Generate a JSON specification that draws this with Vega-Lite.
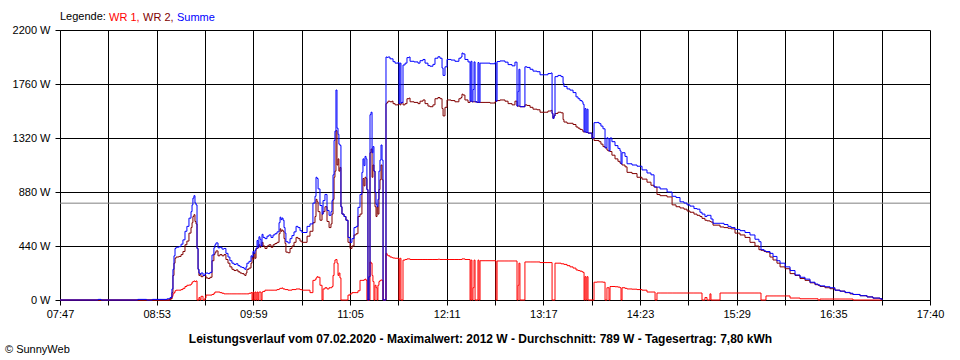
{
  "$schema": "https://vega.github.io/schema/vega-lite/v6.json",
  "width": 870,
  "height": 270,
  "autosize": "none",
  "padding": {"left": 60, "top": 30, "right": 30, "bottom": 60},
  "background": "white",
  "title": {"text": "© SunnyWeb", "orient": "bottom", "anchor": "start", "frame": "group", "fontSize": 11, "fontWeight": "normal", "color": "black", "font": "Liberation Sans", "dx": -55, "offset": 0},
  "config": {"font": "Liberation Sans", "view": {"stroke": null}},
  "layer": [
    {
      "data": {"values": [{"Durchschnitt": 789}]},
      "mark": {"type": "rule", "color": "#808080", "strokeWidth": 1},
      "encoding": {"y": {"field": "Durchschnitt", "type": "quantitative", "scale": {"domain": [0, 2200], "nice": false, "zero": true}}}
    },
    {
      "data": {"values": [
{"Zeit":467,"WR 1":0,"WR 2":0,"Summe":0},
{"Zeit":493,"WR 1":0,"WR 2":0,"Summe":5},
{"Zeit":495,"WR 1":0,"WR 2":0,"Summe":0},
{"Zeit":520,"WR 1":0,"WR 2":0,"Summe":5},
{"Zeit":526,"WR 1":0,"WR 2":0,"Summe":0},
{"Zeit":530,"WR 1":0,"WR 2":0,"Summe":5},
{"Zeit":540,"WR 1":0,"WR 2":0,"Summe":10},
{"Zeit":542.0,"WR 1":10,"WR 2":10,"Summe":20},
{"Zeit":543.3,"WR 1":30,"WR 2":60,"Summe":90},
{"Zeit":544.0,"WR 1":50,"WR 2":200,"Summe":250},
{"Zeit":544.7,"WR 1":60,"WR 2":300,"Summe":360},
{"Zeit":545.4,"WR 1":75,"WR 2":340,"Summe":420},
{"Zeit":546.1,"WR 1":80,"WR 2":350,"Summe":430},
{"Zeit":548.0,"WR 1":80,"WR 2":355,"Summe":435},
{"Zeit":549.5,"WR 1":85,"WR 2":370,"Summe":455},
{"Zeit":550.8,"WR 1":95,"WR 2":395,"Summe":490},
{"Zeit":552.2,"WR 1":110,"WR 2":450,"Summe":560},
{"Zeit":553.5,"WR 1":120,"WR 2":480,"Summe":600},
{"Zeit":554.9,"WR 1":122,"WR 2":545,"Summe":667},
{"Zeit":556.3,"WR 1":130,"WR 2":590,"Summe":720},
{"Zeit":557.0,"WR 1":145,"WR 2":630,"Summe":775},
{"Zeit":557.6,"WR 1":150,"WR 2":680,"Summe":830},
{"Zeit":558.3,"WR 1":155,"WR 2":695,"Summe":850},
{"Zeit":559.0,"WR 1":150,"WR 2":640,"Summe":790},
{"Zeit":559.7,"WR 1":155,"WR 2":620,"Summe":775},
{"Zeit":560.4,"WR 1":0,"WR 2":420,"Summe":420},
{"Zeit":561.1,"WR 1":0,"WR 2":250,"Summe":250},
{"Zeit":561.7,"WR 1":20,"WR 2":200,"Summe":220},
{"Zeit":562.4,"WR 1":0,"WR 2":210,"Summe":210},
{"Zeit":563.1,"WR 1":30,"WR 2":190,"Summe":220},
{"Zeit":564.5,"WR 1":0,"WR 2":200,"Summe":200},
{"Zeit":565.8,"WR 1":15,"WR 2":200,"Summe":215},
{"Zeit":566.5,"WR 1":40,"WR 2":180,"Summe":220},
{"Zeit":567.9,"WR 1":40,"WR 2":175,"Summe":215},
{"Zeit":569.2,"WR 1":40,"WR 2":185,"Summe":225},
{"Zeit":570.6,"WR 1":45,"WR 2":320,"Summe":367},
{"Zeit":571.9,"WR 1":55,"WR 2":370,"Summe":425},
{"Zeit":572.6,"WR 1":65,"WR 2":385,"Summe":450},
{"Zeit":573.3,"WR 1":65,"WR 2":400,"Summe":465},
{"Zeit":574.7,"WR 1":65,"WR 2":360,"Summe":425},
{"Zeit":576.0,"WR 1":60,"WR 2":370,"Summe":430},
{"Zeit":577.4,"WR 1":55,"WR 2":360,"Summe":415},
{"Zeit":578.8,"WR 1":50,"WR 2":370,"Summe":420},
{"Zeit":580.1,"WR 1":50,"WR 2":330,"Summe":380},
{"Zeit":581.5,"WR 1":50,"WR 2":300,"Summe":350},
{"Zeit":582.8,"WR 1":50,"WR 2":270,"Summe":320},
{"Zeit":584.2,"WR 1":50,"WR 2":250,"Summe":300},
{"Zeit":585.6,"WR 1":50,"WR 2":240,"Summe":290},
{"Zeit":587.0,"WR 1":50,"WR 2":245,"Summe":295},
{"Zeit":588.3,"WR 1":50,"WR 2":230,"Summe":280},
{"Zeit":589.7,"WR 1":50,"WR 2":220,"Summe":270},
{"Zeit":591.0,"WR 1":50,"WR 2":215,"Summe":265},
{"Zeit":592.4,"WR 1":50,"WR 2":205,"Summe":255},
{"Zeit":593.1,"WR 1":50,"WR 2":200,"Summe":250},
{"Zeit":593.8,"WR 1":50,"WR 2":220,"Summe":270},
{"Zeit":594.4,"WR 1":50,"WR 2":250,"Summe":300},
{"Zeit":595.8,"WR 1":55,"WR 2":260,"Summe":315},
{"Zeit":597.2,"WR 1":60,"WR 2":300,"Summe":360},
{"Zeit":597.9,"WR 1":0,"WR 2":350,"Summe":350},
{"Zeit":598.5,"WR 1":65,"WR 2":330,"Summe":395},
{"Zeit":599.2,"WR 1":0,"WR 2":380,"Summe":380},
{"Zeit":599.9,"WR 1":65,"WR 2":340,"Summe":405},
{"Zeit":600.6,"WR 1":0,"WR 2":420,"Summe":420},
{"Zeit":601.3,"WR 1":65,"WR 2":420,"Summe":485},
{"Zeit":602.0,"WR 1":0,"WR 2":430,"Summe":430},
{"Zeit":602.6,"WR 1":65,"WR 2":450,"Summe":515},
{"Zeit":603.3,"WR 1":65,"WR 2":430,"Summe":495},
{"Zeit":604.0,"WR 1":0,"WR 2":440,"Summe":440},
{"Zeit":604.7,"WR 1":65,"WR 2":470,"Summe":535},
{"Zeit":605.4,"WR 1":70,"WR 2":440,"Summe":510},
{"Zeit":606.7,"WR 1":80,"WR 2":420,"Summe":500},
{"Zeit":608.1,"WR 1":80,"WR 2":440,"Summe":520},
{"Zeit":609.4,"WR 1":80,"WR 2":450,"Summe":530},
{"Zeit":610.8,"WR 1":80,"WR 2":430,"Summe":510},
{"Zeit":612.2,"WR 1":80,"WR 2":450,"Summe":530},
{"Zeit":613.5,"WR 1":80,"WR 2":460,"Summe":540},
{"Zeit":614.9,"WR 1":85,"WR 2":470,"Summe":555},
{"Zeit":616.3,"WR 1":90,"WR 2":540,"Summe":630},
{"Zeit":617.0,"WR 1":95,"WR 2":580,"Summe":675},
{"Zeit":617.6,"WR 1":95,"WR 2":560,"Summe":655},
{"Zeit":618.3,"WR 1":98,"WR 2":570,"Summe":668},
{"Zeit":619.0,"WR 1":90,"WR 2":560,"Summe":650},
{"Zeit":619.7,"WR 1":90,"WR 2":500,"Summe":590},
{"Zeit":620.4,"WR 1":85,"WR 2":460,"Summe":545},
{"Zeit":621.0,"WR 1":85,"WR 2":390,"Summe":475},
{"Zeit":622.4,"WR 1":80,"WR 2":385,"Summe":465},
{"Zeit":623.8,"WR 1":80,"WR 2":420,"Summe":500},
{"Zeit":625.1,"WR 1":85,"WR 2":440,"Summe":525},
{"Zeit":626.5,"WR 1":85,"WR 2":470,"Summe":555},
{"Zeit":627.9,"WR 1":90,"WR 2":510,"Summe":600},
{"Zeit":629.2,"WR 1":90,"WR 2":500,"Summe":590},
{"Zeit":630.6,"WR 1":85,"WR 2":480,"Summe":565},
{"Zeit":631.9,"WR 1":80,"WR 2":470,"Summe":550},
{"Zeit":633.3,"WR 1":80,"WR 2":470,"Summe":550},
{"Zeit":635.4,"WR 1":80,"WR 2":520,"Summe":600},
{"Zeit":637.4,"WR 1":60,"WR 2":560,"Summe":620},
{"Zeit":639.4,"WR 1":160,"WR 2":630,"Summe":790},
{"Zeit":640.8,"WR 1":165,"WR 2":680,"Summe":845},
{"Zeit":641.5,"WR 1":180,"WR 2":820,"Summe":1000},
{"Zeit":642.2,"WR 1":190,"WR 2":800,"Summe":990},
{"Zeit":642.9,"WR 1":185,"WR 2":720,"Summe":905},
{"Zeit":644.2,"WR 1":120,"WR 2":650,"Summe":770},
{"Zeit":645.6,"WR 1":0,"WR 2":700,"Summe":700},
{"Zeit":646.3,"WR 1":90,"WR 2":720,"Summe":810},
{"Zeit":647.6,"WR 1":100,"WR 2":760,"Summe":860},
{"Zeit":649.0,"WR 1":90,"WR 2":640,"Summe":730},
{"Zeit":650.4,"WR 1":100,"WR 2":590,"Summe":690},
{"Zeit":651.7,"WR 1":100,"WR 2":620,"Summe":720},
{"Zeit":652.4,"WR 1":110,"WR 2":700,"Summe":810},
{"Zeit":653.1,"WR 1":200,"WR 2":820,"Summe":1020},
{"Zeit":653.8,"WR 1":300,"WR 2":1000,"Summe":1300},
{"Zeit":654.4,"WR 1":326,"WR 2":1050,"Summe":1376},
{"Zeit":655.1,"WR 1":330,"WR 2":1380,"Summe":1711},
{"Zeit":655.8,"WR 1":300,"WR 2":1100,"Summe":1400},
{"Zeit":656.5,"WR 1":200,"WR 2":1150,"Summe":1350},
{"Zeit":657.1,"WR 1":220,"WR 2":1050,"Summe":1270},
{"Zeit":657.8,"WR 1":180,"WR 2":1080,"Summe":1260},
{"Zeit":658.5,"WR 1":0,"WR 2":760,"Summe":760},
{"Zeit":659.2,"WR 1":0,"WR 2":700,"Summe":700},
{"Zeit":660.6,"WR 1":0,"WR 2":680,"Summe":680},
{"Zeit":661.9,"WR 1":0,"WR 2":650,"Summe":650},
{"Zeit":663.3,"WR 1":40,"WR 2":470,"Summe":510},
{"Zeit":664.7,"WR 1":50,"WR 2":420,"Summe":470},
{"Zeit":666.0,"WR 1":60,"WR 2":440,"Summe":500},
{"Zeit":667.4,"WR 1":60,"WR 2":530,"Summe":590},
{"Zeit":668.8,"WR 1":60,"WR 2":540,"Summe":600},
{"Zeit":670.1,"WR 1":75,"WR 2":680,"Summe":755},
{"Zeit":671.5,"WR 1":160,"WR 2":700,"Summe":860},
{"Zeit":672.8,"WR 1":160,"WR 2":880,"Summe":1040},
{"Zeit":673.5,"WR 1":160,"WR 2":990,"Summe":1150},
{"Zeit":674.2,"WR 1":165,"WR 2":930,"Summe":1095},
{"Zeit":674.9,"WR 1":170,"WR 2":1000,"Summe":1170},
{"Zeit":675.6,"WR 1":160,"WR 2":990,"Summe":1150},
{"Zeit":676.2,"WR 1":0,"WR 2":900,"Summe":900},
{"Zeit":676.9,"WR 1":0,"WR 2":0,"Summe":0},
{"Zeit":677.6,"WR 1":0,"WR 2":190,"Summe":190},
{"Zeit":678.3,"WR 1":310,"WR 2":1200,"Summe":1510},
{"Zeit":679.0,"WR 1":300,"WR 2":1230,"Summe":1530},
{"Zeit":679.7,"WR 1":200,"WR 2":1000,"Summe":1200},
{"Zeit":680.3,"WR 1":150,"WR 2":1100,"Summe":1250},
{"Zeit":681.0,"WR 1":0,"WR 2":1050,"Summe":1050},
{"Zeit":681.7,"WR 1":120,"WR 2":760,"Summe":880},
{"Zeit":682.4,"WR 1":100,"WR 2":680,"Summe":780},
{"Zeit":683.1,"WR 1":0,"WR 2":760,"Summe":760},
{"Zeit":683.7,"WR 1":120,"WR 2":700,"Summe":820},
{"Zeit":684.4,"WR 1":150,"WR 2":900,"Summe":1050},
{"Zeit":685.1,"WR 1":160,"WR 2":980,"Summe":1140},
{"Zeit":685.8,"WR 1":163,"WR 2":1100,"Summe":1263},
{"Zeit":686.5,"WR 1":160,"WR 2":980,"Summe":1140},
{"Zeit":687.2,"WR 1":0,"WR 2":0,"Summe":0},
{"Zeit":688.5,"WR 1":0,"WR 2":0,"Summe":0},
{"Zeit":689.2,"WR 1":380,"WR 2":1600,"Summe":1980},
{"Zeit":689.9,"WR 1":367,"WR 2":1610,"Summe":1977},
{"Zeit":690.6,"WR 1":360,"WR 2":1620,"Summe":1980},
{"Zeit":691.9,"WR 1":350,"WR 2":1615,"Summe":1965},
{"Zeit":693.3,"WR 1":345,"WR 2":1620,"Summe":1965},
{"Zeit":694.0,"WR 1":342,"WR 2":1600,"Summe":1942},
{"Zeit":695.4,"WR 1":340,"WR 2":1590,"Summe":1930},
{"Zeit":697.4,"WR 1":340,"WR 2":1595,"Summe":1935},
{"Zeit":698.1,"WR 1":0,"WR 2":1600,"Summe":1600},
{"Zeit":698.7,"WR 1":340,"WR 2":1590,"Summe":1930},
{"Zeit":699.4,"WR 1":0,"WR 2":1605,"Summe":1605},
{"Zeit":700.1,"WR 1":0,"WR 2":1610,"Summe":1610},
{"Zeit":700.8,"WR 1":325,"WR 2":1590,"Summe":1915},
{"Zeit":702.2,"WR 1":330,"WR 2":1600,"Summe":1930},
{"Zeit":703.5,"WR 1":335,"WR 2":1640,"Summe":1975},
{"Zeit":704.9,"WR 1":335,"WR 2":1645,"Summe":1980},
{"Zeit":705.6,"WR 1":330,"WR 2":1615,"Summe":1945},
{"Zeit":708.3,"WR 1":330,"WR 2":1610,"Summe":1940},
{"Zeit":711.0,"WR 1":330,"WR 2":1600,"Summe":1930},
{"Zeit":712.4,"WR 1":330,"WR 2":1620,"Summe":1950},
{"Zeit":714.4,"WR 1":330,"WR 2":1630,"Summe":1960},
{"Zeit":715.8,"WR 1":330,"WR 2":1600,"Summe":1930},
{"Zeit":717.8,"WR 1":330,"WR 2":1580,"Summe":1910},
{"Zeit":719.2,"WR 1":330,"WR 2":1575,"Summe":1905},
{"Zeit":721.2,"WR 1":330,"WR 2":1590,"Summe":1920},
{"Zeit":722.6,"WR 1":330,"WR 2":1640,"Summe":1970},
{"Zeit":724.6,"WR 1":332,"WR 2":1650,"Summe":1982},
{"Zeit":726.0,"WR 1":330,"WR 2":1640,"Summe":1970},
{"Zeit":727.4,"WR 1":330,"WR 2":1560,"Summe":1890},
{"Zeit":728.1,"WR 1":330,"WR 2":1500,"Summe":1830},
{"Zeit":729.4,"WR 1":330,"WR 2":1570,"Summe":1900},
{"Zeit":730.8,"WR 1":330,"WR 2":1630,"Summe":1960},
{"Zeit":733.5,"WR 1":330,"WR 2":1625,"Summe":1955},
{"Zeit":736.2,"WR 1":330,"WR 2":1615,"Summe":1945},
{"Zeit":738.9,"WR 1":330,"WR 2":1640,"Summe":1970},
{"Zeit":740.3,"WR 1":330,"WR 2":1650,"Summe":1980},
{"Zeit":741.0,"WR 1":335,"WR 2":1677,"Summe":2012},
{"Zeit":741.7,"WR 1":335,"WR 2":1670,"Summe":2005},
{"Zeit":743.0,"WR 1":330,"WR 2":1630,"Summe":1960},
{"Zeit":745.1,"WR 1":330,"WR 2":1610,"Summe":1940},
{"Zeit":746.5,"WR 1":0,"WR 2":1620,"Summe":1620},
{"Zeit":747.1,"WR 1":325,"WR 2":1620,"Summe":1945},
{"Zeit":747.8,"WR 1":0,"WR 2":1615,"Summe":1615},
{"Zeit":748.5,"WR 1":100,"WR 2":1615,"Summe":1715},
{"Zeit":749.2,"WR 1":325,"WR 2":1615,"Summe":1940},
{"Zeit":749.9,"WR 1":0,"WR 2":1615,"Summe":1615},
{"Zeit":751.2,"WR 1":0,"WR 2":1610,"Summe":1610},
{"Zeit":751.9,"WR 1":325,"WR 2":1610,"Summe":1935},
{"Zeit":752.6,"WR 1":0,"WR 2":1610,"Summe":1610},
{"Zeit":753.3,"WR 1":320,"WR 2":1610,"Summe":1930},
{"Zeit":756.7,"WR 1":320,"WR 2":1610,"Summe":1930},
{"Zeit":760.1,"WR 1":320,"WR 2":1605,"Summe":1925},
{"Zeit":763.5,"WR 1":320,"WR 2":1615,"Summe":1935},
{"Zeit":764.2,"WR 1":0,"WR 2":1620,"Summe":1620},
{"Zeit":764.9,"WR 1":318,"WR 2":1625,"Summe":1943},
{"Zeit":766.9,"WR 1":318,"WR 2":1630,"Summe":1948},
{"Zeit":770.3,"WR 1":318,"WR 2":1620,"Summe":1938},
{"Zeit":772.4,"WR 1":318,"WR 2":1600,"Summe":1918},
{"Zeit":775.1,"WR 1":318,"WR 2":1590,"Summe":1908},
{"Zeit":777.1,"WR 1":318,"WR 2":1620,"Summe":1938},
{"Zeit":778.5,"WR 1":0,"WR 2":1580,"Summe":1580},
{"Zeit":779.2,"WR 1":120,"WR 2":1580,"Summe":1700},
{"Zeit":779.8,"WR 1":300,"WR 2":1580,"Summe":1880},
{"Zeit":780.5,"WR 1":0,"WR 2":1575,"Summe":1575},
{"Zeit":783.9,"WR 1":310,"WR 2":1590,"Summe":1900},
{"Zeit":785.3,"WR 1":310,"WR 2":1585,"Summe":1895},
{"Zeit":787.4,"WR 1":310,"WR 2":1570,"Summe":1880},
{"Zeit":789.4,"WR 1":310,"WR 2":1555,"Summe":1865},
{"Zeit":792.1,"WR 1":310,"WR 2":1550,"Summe":1860},
{"Zeit":794.2,"WR 1":305,"WR 2":1530,"Summe":1835},
{"Zeit":797.6,"WR 1":305,"WR 2":1530,"Summe":1835},
{"Zeit":799.6,"WR 1":305,"WR 2":1540,"Summe":1845},
{"Zeit":801.7,"WR 1":305,"WR 2":1545,"Summe":1850},
{"Zeit":802.4,"WR 1":0,"WR 2":1520,"Summe":1520},
{"Zeit":803.0,"WR 1":0,"WR 2":1480,"Summe":1480},
{"Zeit":803.7,"WR 1":0,"WR 2":1500,"Summe":1500},
{"Zeit":804.4,"WR 1":300,"WR 2":1520,"Summe":1820},
{"Zeit":806.4,"WR 1":300,"WR 2":1530,"Summe":1830},
{"Zeit":808.5,"WR 1":295,"WR 2":1525,"Summe":1820},
{"Zeit":809.9,"WR 1":295,"WR 2":1470,"Summe":1765},
{"Zeit":810.5,"WR 1":290,"WR 2":1450,"Summe":1740},
{"Zeit":812.6,"WR 1":280,"WR 2":1440,"Summe":1720},
{"Zeit":814.6,"WR 1":270,"WR 2":1440,"Summe":1710},
{"Zeit":816.7,"WR 1":260,"WR 2":1430,"Summe":1690},
{"Zeit":818.7,"WR 1":245,"WR 2":1410,"Summe":1655},
{"Zeit":820.1,"WR 1":240,"WR 2":1400,"Summe":1640},
{"Zeit":821.4,"WR 1":235,"WR 2":1390,"Summe":1625},
{"Zeit":822.8,"WR 1":230,"WR 2":1385,"Summe":1615},
{"Zeit":823.5,"WR 1":225,"WR 2":1370,"Summe":1595},
{"Zeit":824.2,"WR 1":0,"WR 2":1370,"Summe":1370},
{"Zeit":824.8,"WR 1":190,"WR 2":1370,"Summe":1560},
{"Zeit":825.5,"WR 1":0,"WR 2":1365,"Summe":1365},
{"Zeit":826.2,"WR 1":190,"WR 2":1365,"Summe":1555},
{"Zeit":826.9,"WR 1":0,"WR 2":1360,"Summe":1360},
{"Zeit":829.6,"WR 1":0,"WR 2":1320,"Summe":1320},
{"Zeit":831.0,"WR 1":145,"WR 2":1300,"Summe":1445},
{"Zeit":833.0,"WR 1":147,"WR 2":1300,"Summe":1447},
{"Zeit":834.4,"WR 1":147,"WR 2":1290,"Summe":1437},
{"Zeit":835.7,"WR 1":147,"WR 2":1270,"Summe":1417},
{"Zeit":837.1,"WR 1":145,"WR 2":1250,"Summe":1395},
{"Zeit":838.5,"WR 1":0,"WR 2":1240,"Summe":1240},
{"Zeit":839.8,"WR 1":100,"WR 2":1222,"Summe":1322},
{"Zeit":840.5,"WR 1":100,"WR 2":1215,"Summe":1315},
{"Zeit":841.2,"WR 1":0,"WR 2":1215,"Summe":1215},
{"Zeit":841.9,"WR 1":110,"WR 2":1210,"Summe":1320},
{"Zeit":843.2,"WR 1":110,"WR 2":1180,"Summe":1290},
{"Zeit":845.3,"WR 1":108,"WR 2":1150,"Summe":1258},
{"Zeit":847.3,"WR 1":105,"WR 2":1130,"Summe":1235},
{"Zeit":848.7,"WR 1":100,"WR 2":1115,"Summe":1215},
{"Zeit":849.4,"WR 1":0,"WR 2":1110,"Summe":1110},
{"Zeit":850.1,"WR 1":100,"WR 2":1100,"Summe":1200},
{"Zeit":852.1,"WR 1":95,"WR 2":1085,"Summe":1170},
{"Zeit":853.5,"WR 1":90,"WR 2":1040,"Summe":1110},
{"Zeit":856.9,"WR 1":88,"WR 2":1030,"Summe":1100},
{"Zeit":860.3,"WR 1":85,"WR 2":1000,"Summe":1090},
{"Zeit":863.7,"WR 1":80,"WR 2":985,"Summe":1060},
{"Zeit":867.1,"WR 1":65,"WR 2":960,"Summe":1035},
{"Zeit":869.8,"WR 1":65,"WR 2":935,"Summe":1020},
{"Zeit":871.9,"WR 1":65,"WR 2":920,"Summe":925},
{"Zeit":872.6,"WR 1":0,"WR 2":920,"Summe":920},
{"Zeit":873.9,"WR 1":57,"WR 2":860,"Summe":920},
{"Zeit":876.0,"WR 1":57,"WR 2":850,"Summe":905},
{"Zeit":880.8,"WR 1":57,"WR 2":840,"Summe":880},
{"Zeit":884.2,"WR 1":57,"WR 2":775,"Summe":845},
{"Zeit":886.9,"WR 1":57,"WR 2":760,"Summe":835},
{"Zeit":889.6,"WR 1":57,"WR 2":750,"Summe":800},
{"Zeit":892.3,"WR 1":57,"WR 2":740,"Summe":790},
{"Zeit":894.4,"WR 1":57,"WR 2":725,"Summe":775},
{"Zeit":896.4,"WR 1":57,"WR 2":715,"Summe":765},
{"Zeit":899.1,"WR 1":57,"WR 2":700,"Summe":745},
{"Zeit":901.2,"WR 1":57,"WR 2":690,"Summe":740},
{"Zeit":903.2,"WR 1":57,"WR 2":680,"Summe":715},
{"Zeit":904.6,"WR 1":0,"WR 2":665,"Summe":700},
{"Zeit":906.6,"WR 1":20,"WR 2":650,"Summe":680},
{"Zeit":908.0,"WR 1":0,"WR 2":645,"Summe":690},
{"Zeit":910.0,"WR 1":50,"WR 2":640,"Summe":690},
{"Zeit":910.7,"WR 1":0,"WR 2":635,"Summe":660},
{"Zeit":912.1,"WR 1":0,"WR 2":610,"Summe":625},
{"Zeit":916.9,"WR 1":57,"WR 2":595,"Summe":625},
{"Zeit":919.6,"WR 1":57,"WR 2":590,"Summe":615},
{"Zeit":922.3,"WR 1":57,"WR 2":585,"Summe":600},
{"Zeit":924.4,"WR 1":57,"WR 2":580,"Summe":590},
{"Zeit":927.1,"WR 1":57,"WR 2":545,"Summe":575},
{"Zeit":930.5,"WR 1":57,"WR 2":530,"Summe":565},
{"Zeit":933.9,"WR 1":57,"WR 2":510,"Summe":550},
{"Zeit":937.3,"WR 1":57,"WR 2":470,"Summe":530},
{"Zeit":940.7,"WR 1":57,"WR 2":440,"Summe":495},
{"Zeit":943.4,"WR 1":57,"WR 2":410,"Summe":475},
{"Zeit":944.8,"WR 1":0,"WR 2":405,"Summe":410},
{"Zeit":946.9,"WR 1":0,"WR 2":395,"Summe":400},
{"Zeit":948.2,"WR 1":33,"WR 2":390,"Summe":395},
{"Zeit":950.9,"WR 1":33,"WR 2":350,"Summe":380},
{"Zeit":953.0,"WR 1":33,"WR 2":326,"Summe":355},
{"Zeit":955.7,"WR 1":33,"WR 2":300,"Summe":320},
{"Zeit":957.8,"WR 1":33,"WR 2":270,"Summe":300},
{"Zeit":961.2,"WR 1":33,"WR 2":255,"Summe":270},
{"Zeit":964.6,"WR 1":16,"WR 2":215,"Summe":240},
{"Zeit":968.0,"WR 1":16,"WR 2":200,"Summe":204},
{"Zeit":971.4,"WR 1":10,"WR 2":175,"Summe":185},
{"Zeit":974.8,"WR 1":10,"WR 2":160,"Summe":170},
{"Zeit":978.2,"WR 1":10,"WR 2":140,"Summe":145},
{"Zeit":981.6,"WR 1":10,"WR 2":125,"Summe":130},
{"Zeit":983.7,"WR 1":0,"WR 2":120,"Summe":122},
{"Zeit":985.0,"WR 1":8,"WR 2":110,"Summe":115},
{"Zeit":988.4,"WR 1":8,"WR 2":100,"Summe":108},
{"Zeit":991.8,"WR 1":8,"WR 2":92,"Summe":100},
{"Zeit":995.2,"WR 1":8,"WR 2":80,"Summe":80},
{"Zeit":998.6,"WR 1":8,"WR 2":72,"Summe":72},
{"Zeit":1002.1,"WR 1":8,"WR 2":60,"Summe":62},
{"Zeit":1005.5,"WR 1":8,"WR 2":50,"Summe":55},
{"Zeit":1007.5,"WR 1":0,"WR 2":45,"Summe":45},
{"Zeit":1012.3,"WR 1":0,"WR 2":35,"Summe":35},
{"Zeit":1017.1,"WR 1":0,"WR 2":25,"Summe":25},
{"Zeit":1021.1,"WR 1":0,"WR 2":15,"Summe":16},
{"Zeit":1025.9,"WR 1":0,"WR 2":10,"Summe":10},
{"Zeit":1027.3,"WR 1":0,"WR 2":0,"Summe":0}
      ]},
      "transform": [{"fold": ["WR 1", "WR 2", "Summe"], "as": ["Reihe", "Leistung"]}],
      "mark": {"type": "line", "interpolate": "step-after", "strokeWidth": 1},
      "encoding": {
        "x": {"field": "Zeit", "type": "quantitative", "scale": {"domain": [467, 1060], "nice": false, "zero": false},
          "axis": {
            "values": [467, 499.944, 532.889, 565.833, 598.778, 631.722, 664.667, 697.611, 730.556, 763.5, 796.444, 829.389, 862.333, 895.278, 928.222, 961.167, 994.111, 1027.056, 1060],
            "labelExpr": "['07:47','','08:53','','09:59','','11:05','','12:11','','13:17','','14:23','','15:29','','16:35','','17:40'][round((datum.value-467)*18/593)]",
            "grid": true, "gridColor": "#000000", "gridOpacity": 1, "gridWidth": 1,
            "domainColor": "#000000", "domainWidth": 1,
            "tickColor": "#000000", "tickSize": 5, "tickWidth": 1,
            "labelFont": "Liberation Sans", "labelFontSize": 11, "labelColor": "#000000", "labelPadding": 3,
            "labelFlush": false, "labelOverlap": false,
            "title": "Leistungsverlauf vom 07.02.2020 - Maximalwert: 2012 W - Durchschnitt: 789 W - Tagesertrag: 7,80 kWh",
            "titleFont": "Liberation Sans", "titleFontSize": 12, "titleFontWeight": "bold", "titleColor": "#000000",
            "titleX": 420, "titleY": 42, "titleBaseline": "alphabetic", "titleAnchor": "middle"
          }},
        "y": {"field": "Leistung", "type": "quantitative", "scale": {"domain": [0, 2200], "nice": false, "zero": true},
          "axis": {
            "values": [0, 440, 880, 1320, 1760, 2200],
            "labelExpr": "datum.value + ' W'",
            "grid": true, "gridColor": "#000000", "gridOpacity": 1, "gridWidth": 1,
            "domainColor": "#000000", "domainWidth": 1,
            "tickColor": "#000000", "tickSize": 5, "tickWidth": 1,
            "labelFont": "Liberation Sans", "labelFontSize": 11, "labelColor": "#000000", "labelPadding": 5,
            "labelFlush": false, "labelOverlap": false, "labelBaseline": "middle",
            "title": null
          }},
        "color": {"field": "Reihe", "type": "nominal",
          "scale": {"domain": ["WR 1", "WR 2", "Summe"], "range": ["#ff0000", "#800000", "#0000ff"]},
          "legend": {
            "orient": "none", "legendX": 0, "legendY": -18, "direction": "horizontal",
            "title": "Legende:", "titleOrient": "left", "titleFont": "Liberation Sans", "titleFontSize": 11, "titleFontWeight": "normal", "titleColor": "#000000", "titlePadding": 2,
            "labelFont": "Liberation Sans", "labelFontSize": 11, "labelOffset": -10,
            "labelExpr": "datum.label == 'Summe' ? datum.label : datum.label + ','",
            "symbolSize": 1, "symbolStrokeWidth": 0, "symbolOpacity": 0, "columnPadding": 2,
            "encode": {"labels": {"update": {"fill": {"scale": "color", "field": "value"}}}}
          }}
      }
    }
  ]
}
